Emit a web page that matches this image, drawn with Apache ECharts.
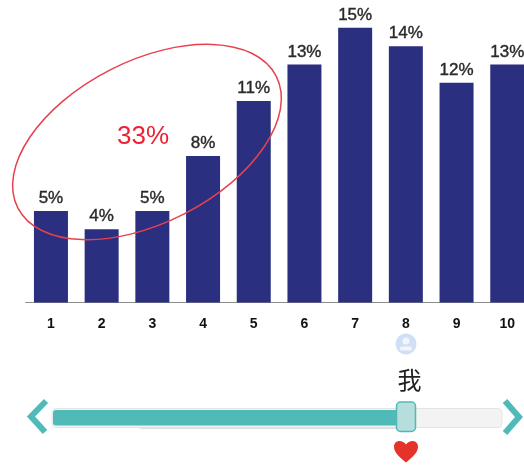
<!DOCTYPE html>
<html><head><meta charset="utf-8">
<style>html,body{margin:0;padding:0;background:#fff}#c{width:524px;height:465px}</style>
<script src="https://cdn.jsdelivr.net/npm/echarts@6/dist/echarts.min.js"></script>
</head><body><div id="c"></div>
<script>
const categories = ['1','2','3','4','5','6','7','8','9','10'];
const values = [5,4,5,8,11,13,15,14,12,13];
const calloutText = '33%';
const meText = '我';
echarts.graphic.registerShape('heartIcon', echarts.graphic.extendShape({
  shape:{x:0,y:0,w:24,h:21},
  buildPath(ctx,s){
    const X=v=>s.x+v*s.w/24, Y=v=>s.y+v*s.h/21;
    ctx.moveTo(X(12),Y(21));
    ctx.bezierCurveTo(X(5),Y(15),X(0),Y(11),X(0),Y(5.5));
    ctx.bezierCurveTo(X(0),Y(2),X(2.6),Y(0),X(5.5),Y(0));
    ctx.bezierCurveTo(X(8),Y(0),X(10.5),Y(1.3),X(12),Y(3.5));
    ctx.bezierCurveTo(X(13.5),Y(1.3),X(16),Y(0),X(18.5),Y(0));
    ctx.bezierCurveTo(X(21.4),Y(0),X(24),Y(2),X(24),Y(5.5));
    ctx.bezierCurveTo(X(24),Y(11),X(19),Y(15),X(12),Y(21));
    ctx.closePath();
  }
}));
const chart = echarts.init(document.getElementById('c'), null, {renderer:'canvas'});
const teal = '#4fbab8';
const font = '"Liberation Sans", Arial, sans-serif';
chart.setOption({
  animation:false,
  grid:{left:25.6,top:9.5,width:507,height:293,containLabel:false,outerBoundsMode:'none'},
  xAxis:{type:'category',data:categories,
    axisTick:{show:false},
    axisLine:{lineStyle:{color:'#8c8c8c',width:1}},
    axisLabel:{color:'#111',fontSize:14,fontWeight:'bold',fontFamily:font,margin:15,interval:0,hideOverlap:false}},
  yAxis:{type:'value',min:0,max:16,show:false,splitLine:{show:false}},
  series:[{type:'bar',data:values,barWidth:34,itemStyle:{color:'#2b2f7f'},
    label:{show:true,position:'top',distance:4,color:'#2a2a2a',fontSize:17,fontFamily:font,textBorderColor:'#2a2a2a',textBorderWidth:0.4,formatter:p=>p.value+'%'}}],
  graphic:[
    {type:'ellipse',shape:{cx:0,cy:0,rx:145,ry:81},x:147,y:142,rotation:27*Math.PI/180,
      style:{fill:'none',stroke:'#e8404f',lineWidth:1.5},z:10},
    {type:'text',x:143,y:137,z:10,style:{text:calloutText,fill:'#ee2233',font:'26px '+font,textAlign:'center',textVerticalAlign:'middle'}},
    {type:'circle',shape:{cx:406,cy:344,r:10.5},style:{fill:'#cfdff5'}},
    {type:'circle',shape:{cx:406,cy:341,r:3.5},style:{fill:'#f2f6fc'}},
    {type:'rect',shape:{x:400,y:346.5,width:12,height:4,r:2},style:{fill:'#f2f6fc'}},
    {type:'text',x:409.5,y:380,style:{text:meText,fill:'#222',font:'24px "Noto Sans CJK SC"',textAlign:'center',textVerticalAlign:'middle'}},
    {type:'polyline',shape:{points:[[46,401],[31,416.5],[45,432]]},style:{fill:'none',stroke:teal,lineWidth:6}},
    {type:'polyline',shape:{points:[[505,401],[519,417],[505,433]]},style:{fill:'none',stroke:teal,lineWidth:6}},
    {type:'rect',shape:{x:139,y:420,width:262,height:9,r:3},style:{fill:'#dddddd'}},
    {type:'rect',shape:{x:52,y:408.5,width:450,height:19,r:4},style:{fill:'#f3f3f3',stroke:'#e4e4e4',lineWidth:1}},
    {type:'rect',shape:{x:53,y:410,width:347,height:15.5,r:3},style:{fill:teal}},
    {type:'rect',shape:{x:396.5,y:402,width:19,height:29.5,r:4},style:{fill:'#b5dedd',stroke:teal,lineWidth:1.5}},
    {type:'heartIcon',shape:{x:394,y:441,w:24,h:21.5},style:{fill:'#e63329'}}
  ]
});
</script></body></html>
